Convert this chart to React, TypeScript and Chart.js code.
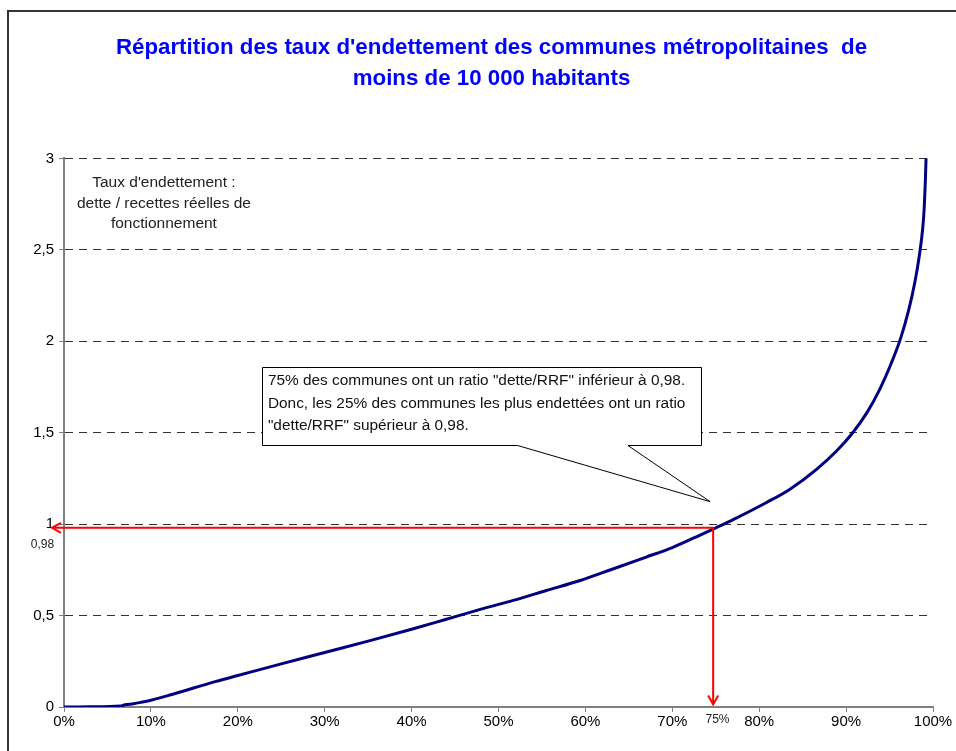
import React, { useEffect, useRef } from 'react';
import { Chart, registerables } from 'chart.js';

Chart.register(...registerables);

// ---------- data ----------
const TITLE_LINES = [
  "Répartition des taux d'endettement des communes métropolitaines  de",
  'moins de 10 000 habitants',
];

// share of communes (percentile, %)
const PERCENTILES = [
  0, 3, 6.5, 7, 8, 9, 10, 12.5, 15, 17.5, 20, 25, 30, 35, 40, 44, 48, 51.7,
  55.5, 59.4, 63, 67, 70, 73.2, 75, 77, 80.9, 83.5, 86.6, 88.9, 90.6, 92.4,
  93.9, 95.2, 96.3, 97.2, 97.9, 98.4, 98.8, 99.0, 99.2, 99.3,
];
// debt ratio (dette / RRF)
const RATIOS = [
  0, 0.001, 0.005, 0.012, 0.018, 0.027, 0.037, 0.07, 0.105, 0.14, 0.172,
  0.236, 0.298, 0.36, 0.425, 0.48, 0.535, 0.583, 0.637, 0.692, 0.752, 0.82,
  0.872, 0.94, 0.98, 1.025, 1.12, 1.19, 1.3, 1.4, 1.49, 1.61, 1.74, 1.88,
  2.02, 2.17, 2.32, 2.46, 2.61, 2.74, 3.0, 3.25,
];

const X_TICK_VALUES = [0, 10, 20, 30, 40, 50, 60, 70, 80, 90, 100];
const Y_TICK_VALUES = [0, 0.5, 1, 1.5, 2, 2.5, 3];

const THRESHOLD_PCT = 74.7;
const THRESHOLD_PCT_LABEL = '75%';
const THRESHOLD_RATIO = 0.98;
const THRESHOLD_RATIO_LABEL = '0,98';

const AXIS_NOTE_LINES = [
  "Taux d'endettement :",
  'dette / recettes réelles de',
  'fonctionnement',
];
const CALLOUT_LINES = [
  '75% des communes ont un ratio "dette/RRF" inférieur à 0,98.',
  'Donc, les 25% des communes les plus endettées ont un ratio',
  '"dette/RRF" supérieur à 0,98.',
];

const FONT = '"Liberation Sans", Arial, Helvetica, sans-serif';

function arrowHead(ctx: CanvasRenderingContext2D, tipX: number, tipY: number, dx: number, dy: number, len = 9, half = 5) {
  const bx = tipX - dx * len;
  const by = tipY - dy * len;
  const px = -dy;
  const py = dx;
  ctx.beginPath();
  ctx.moveTo(bx + px * half, by + py * half);
  ctx.lineTo(tipX, tipY);
  ctx.lineTo(bx - px * half, by - py * half);
  ctx.stroke();
}

const decorPlugin = {
  id: 'decor',
  beforeDraw(chart: any) {
    const ctx = chart.ctx as CanvasRenderingContext2D;
    ctx.save();
    ctx.strokeStyle = '#333333';
    ctx.lineWidth = 2;
    ctx.strokeRect(8, 11, chart.width + 20, chart.height + 20);
    ctx.restore();
  },
  afterDraw(chart: any) {
    const ctx = chart.ctx as CanvasRenderingContext2D;
    const xs = chart.scales.x;
    const ys = chart.scales.y;
    const area = chart.chartArea;

    // axis note (top-left)
    ctx.save();
    ctx.fillStyle = '#222222';
    ctx.font = `15.5px ${FONT}`;
    ctx.textAlign = 'center';
    ctx.textBaseline = 'middle';
    const noteX = xs.getPixelForValue(11.5);
    const noteY = ys.getPixelForValue(2.865);
    AXIS_NOTE_LINES.forEach((t, i) => ctx.fillText(t, noteX, noteY + i * 20.3));
    ctx.restore();

    // callout
    const bl = xs.getPixelForValue(22.83);
    const br = xs.getPixelForValue(73.36);
    const bt = ys.getPixelForValue(1.859);
    const bb = ys.getPixelForValue(1.431);
    const p1 = xs.getPixelForValue(52.2);
    const p2 = xs.getPixelForValue(64.9);
    const tx = xs.getPixelForValue(74.35);
    const ty = ys.getPixelForValue(1.123);
    ctx.save();
    ctx.beginPath();
    ctx.moveTo(Math.round(bl) + 0.5, Math.round(bt) + 0.5);
    ctx.lineTo(Math.round(br) + 0.5, Math.round(bt) + 0.5);
    ctx.lineTo(Math.round(br) + 0.5, Math.round(bb) + 0.5);
    ctx.lineTo(p2, Math.round(bb) + 0.5);
    ctx.lineTo(tx, ty);
    ctx.lineTo(p1, Math.round(bb) + 0.5);
    ctx.lineTo(Math.round(bl) + 0.5, Math.round(bb) + 0.5);
    ctx.closePath();
    ctx.fillStyle = '#ffffff';
    ctx.fill();
    ctx.strokeStyle = '#000000';
    ctx.lineWidth = 1;
    ctx.stroke();
    ctx.fillStyle = '#111111';
    ctx.font = `15.4px ${FONT}`;
    ctx.textAlign = 'left';
    ctx.textBaseline = 'middle';
    CALLOUT_LINES.forEach((t, i) => ctx.fillText(t, bl + 5.5, bt + 14 + i * 22.5));
    ctx.restore();

    // red arrows
    const ax = xs.getPixelForValue(THRESHOLD_PCT);
    const ay = ys.getPixelForValue(THRESHOLD_RATIO);
    const leftTip = area.left - 12;
    const bottomTip = ys.getPixelForValue(0) - 2.5;
    ctx.save();
    ctx.strokeStyle = '#ff0000';
    ctx.lineWidth = 2;
    ctx.lineCap = 'butt';
    ctx.beginPath();
    ctx.moveTo(ax, ay);
    ctx.lineTo(leftTip + 1, ay);
    ctx.moveTo(ax, ay);
    ctx.lineTo(ax, bottomTip - 1);
    ctx.stroke();
    arrowHead(ctx, leftTip, ay, -1, 0);
    arrowHead(ctx, ax, bottomTip, 0, 1);
    ctx.restore();

    // threshold labels
    ctx.save();
    ctx.fillStyle = '#222222';
    ctx.font = `12px ${FONT}`;
    ctx.textAlign = 'center';
    ctx.textBaseline = 'middle';
    ctx.fillText(THRESHOLD_RATIO_LABEL, area.left - 21.5, ay + 16.5);
    ctx.fillText(THRESHOLD_PCT_LABEL, xs.getPixelForValue(75.2), ys.getPixelForValue(0) + 12.5);
    ctx.restore();
  },
};

export default function App() {
  const canvasRef = useRef<HTMLCanvasElement | null>(null);

  useEffect(() => {
    document.body.style.margin = '0';
    const canvas = canvasRef.current;
    if (!canvas) return;
    const points = PERCENTILES.map((p, i) => ({ x: p, y: RATIOS[i] }));
    const chart = new Chart(canvas, {
      type: 'line',
      data: {
        datasets: [
          {
            data: points,
            borderColor: '#000080',
            borderWidth: 3,
            pointRadius: 0,
            cubicInterpolationMode: 'monotone',
            fill: false,
          },
        ],
      },
      options: {
        animation: false,
        responsive: false,
        devicePixelRatio: 1,
        layout: { padding: { left: 32, right: 5, top: 10, bottom: 19 } },
        plugins: {
          legend: { display: false },
          tooltip: { enabled: false },
          title: {
            display: true,
            text: TITLE_LINES,
            color: '#0000ff',
            font: { family: FONT, size: 22.3, weight: 'bold', lineHeight: 1.4 },
            padding: { top: 22.5, bottom: 63.5 },
          },
        },
        scales: {
          x: {
            type: 'linear',
            min: 0,
            max: 100,
            afterBuildTicks: (scale: any) => {
              scale.ticks = X_TICK_VALUES.map((v) => ({ value: v }));
            },
            afterFit: (scale: any) => {
              scale.paddingRight = 23;
              scale.paddingLeft = 0;
            },
            ticks: {
              color: '#000000',
              font: { family: FONT, size: 15 },
              padding: 1,
              maxRotation: 0,
              callback: (v: any) => `${v}%`,
            },
            grid: {
              drawOnChartArea: false,
              drawTicks: true,
              tickLength: 5,
              tickColor: '#808080',
              tickWidth: 1,
              color: '#808080',
            },
            border: { display: true, color: '#808080', width: 2 },
          },
          y: {
            type: 'linear',
            min: 0,
            max: 3,
            afterBuildTicks: (scale: any) => {
              scale.ticks = Y_TICK_VALUES.map((v) => ({ value: v }));
            },
            afterFit: (scale: any) => {
              scale.width = 32;
            },
            ticks: {
              color: '#000000',
              font: { family: FONT, size: 15 },
              padding: 5,
              callback: (v: any) => String(v).replace('.', ','),
            },
            grid: {
              drawOnChartArea: true,
              drawTicks: true,
              tickLength: 5,
              tickColor: '#808080',
              tickWidth: 1,
              lineWidth: 1,
              color: (c: any) => (c.tick && c.tick.value === 0 ? 'rgba(0,0,0,0)' : '#333333'),
              borderDash: [8, 6],
            } as any,
            border: { display: true, color: '#808080', width: 2, dash: [8, 6] },
          },
        },
      },
      plugins: [decorPlugin],
    } as any);
    return () => chart.destroy();
  }, []);

  return (
    <div style={{ width: 956, height: 751 }}>
      <canvas ref={canvasRef} width={956} height={751} style={{ display: 'block' }} />
    </div>
  );
}
